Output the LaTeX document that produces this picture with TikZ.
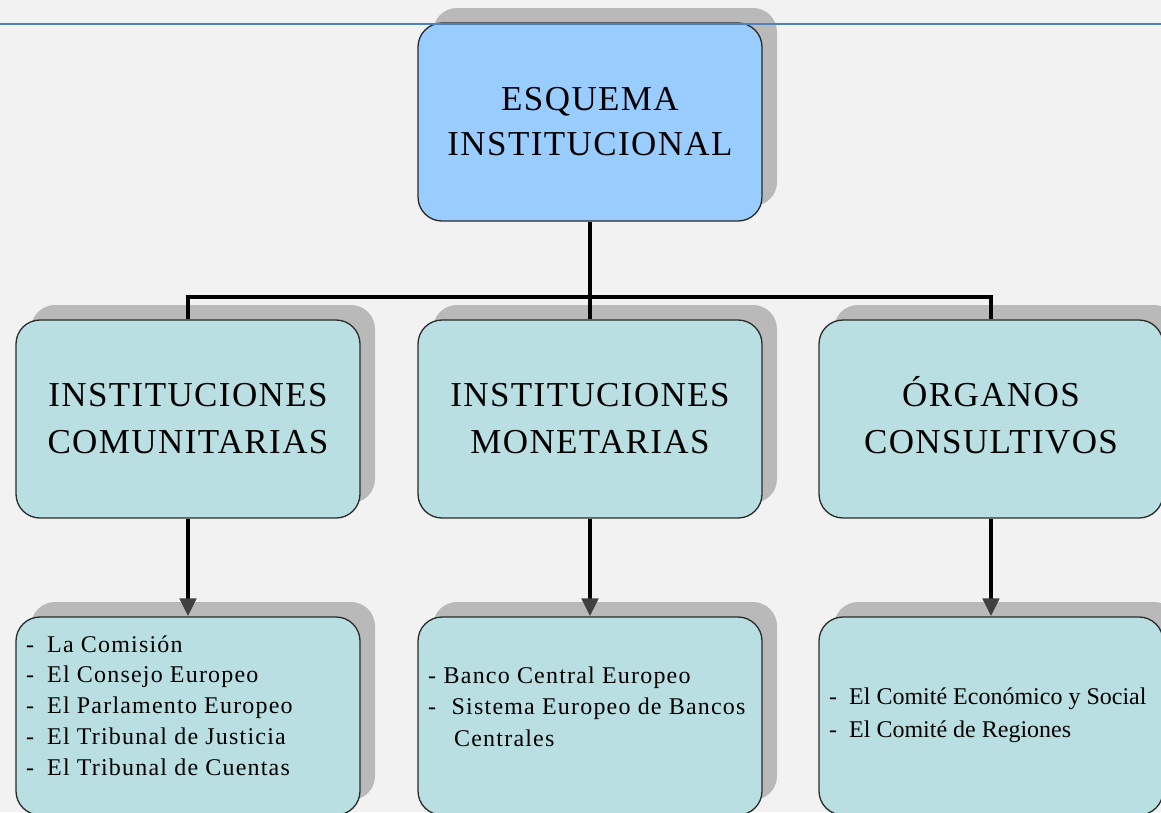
\documentclass[tikz,border=0pt]{standalone}
\usepackage{fontspec}
\setmainfont{Liberation Serif}
\newfontfamily\titlefont[LetterSpace=4]{Liberation Serif}
\newfontfamily\listfont[LetterSpace=5]{Liberation Serif}
\newfontfamily\plainlistfont{Liberation Serif}
\usetikzlibrary{arrows.meta,shadows}
\definecolor{bgcol}{HTML}{F2F2F2}
\definecolor{topfill}{HTML}{99CCFF}
\definecolor{boxfill}{HTML}{B9DFE2}
\definecolor{shadowcol}{HTML}{B9B9B9}
\definecolor{bordercol}{HTML}{2A2A2A}
\definecolor{rulecol}{HTML}{4F81BD}
\definecolor{headcol}{HTML}{404040}
\begin{document}
\begin{tikzpicture}[x=1pt,y=-1pt,
  box/.style={draw=bordercol, line width=1.3pt, rounded corners=24pt,
    minimum width=344pt, minimum height=198pt, inner sep=0pt, align=center,
    general shadow={shadow xshift=15pt, shadow yshift=15pt, fill=shadowcol}},
  topbox/.style={box, fill=topfill, font=\titlefont\fontsize{35}{45}\selectfont},
  midbox/.style={box, fill=boxfill, font=\titlefont\fontsize{35}{47}\selectfont},
  lowbox/.style={box, fill=boxfill},
  listtext/.style={inner sep=0pt, anchor=base west},
  conn/.style={line width=4.5pt, black},
  arrowconn/.style={line width=4.5pt, black,
    -{Triangle[length=18pt,width=16pt,color=headcol,fill=headcol]}}
]
\useasboundingbox (0,0) rectangle (1161,812);
\clip (0,0) rectangle (1161,812);
\fill[bgcol] (0,0) rectangle (1161,812);

% top box
\node[topbox] (top) at (590,122) {ESQUEMA\\INSTITUCIONAL};

% middle boxes
\node[midbox] (cL) at (188,419) {INSTITUCIONES\\COMUNITARIAS};
\node[midbox] (cM) at (590,419) {INSTITUCIONES\\MONETARIAS};
\node[midbox] (cR) at (991,419) {\raisebox{0pt}[0.66em]{ÓRGANOS}\\CONSULTIVOS};

% lower boxes
\node[lowbox] (lL) at (188,716) {};
\node[lowbox] (lM) at (590,716) {};
\node[lowbox] (lR) at (991,716) {};

% list texts
\node[listtext] (tL) at (26,652) {\listfont\fontsize{24}{30.8}\selectfont
  \begin{tabular}[t]{@{}l@{}}
  -\hspace{13pt}La Comisión\\
  -\hspace{13pt}El Consejo Europeo\\
  -\hspace{13pt}El Parlamento Europeo\\
  -\hspace{13pt}El Tribunal de Justicia\\
  -\hspace{13pt}El Tribunal de Cuentas
  \end{tabular}};
\node[listtext] (tM) at (428,683) {\listfont\fontsize{24}{31.5}\selectfont
  \begin{tabular}[t]{@{}l@{}}
  -\hspace{7.5pt}Banco Central Europeo\\
  -\hspace{15.5pt}Sistema Europeo de Bancos\\
  \hspace{26pt}Centrales
  \end{tabular}};
\node[listtext] (tR) at (829,704) {\plainlistfont\fontsize{24}{33}\selectfont
  \begin{tabular}[t]{@{}l@{}}
  -\hspace{12pt}El Comité Económico y Social\\
  -\hspace{12pt}El Comité de Regiones
  \end{tabular}};

% connectors
\coordinate (bus) at (590,297);
\draw[conn] (top.south) -- (bus);
\draw[conn] (bus) -| (cL.north);
\draw[conn] (bus) -| (cR.north);
\draw[conn] (bus) -- (cM.north);

\draw[arrowconn] (cL.south) -- (lL.north);
\draw[arrowconn] (cM.south) -- (lM.north);
\draw[arrowconn] (cR.south) -- (lR.north);

% blue rule at top
\draw[rulecol, line width=2pt] (0,24) -- (1161,24);
\end{tikzpicture}
\end{document}
